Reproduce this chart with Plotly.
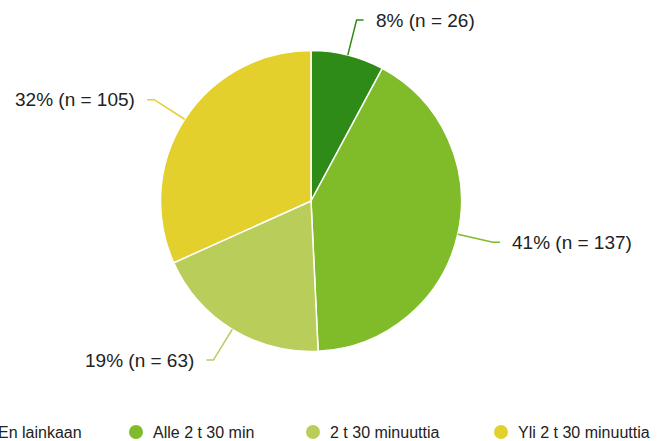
import math
import plotly.graph_objects as go

# Survey answers: daily time spent
categories = ["En lainkaan", "Alle 2 t 30 min", "2 t 30 minuuttia", "Yli 2 t 30 minuuttia"]
counts = [26, 137, 63, 105]
colors = ["#2e8b17", "#80bb2a", "#b9cd5a", "#e3d02c"]

W, H = 660, 441
CX, CY, R = 311.0, 201.0, 150.5   # pie centre and radius in pixels
ELBOW = 1.24 * R                   # leader line length from centre
TICK = 7                           # horizontal leader segment
GAP = 10                           # space between leader and text


def px(x):
    return x / W


def py(y):
    return 1 - y / H


fig = go.Figure()
fig.add_trace(go.Pie(
    labels=categories,
    values=counts,
    marker=dict(colors=colors, line=dict(color="white", width=1.5)),
    sort=False,
    direction="clockwise",
    rotation=0,
    textinfo="none",
    hoverinfo="label+value+percent",
    showlegend=False,
    domain=dict(x=[px(CX - R), px(CX + R)], y=[py(CY + R), py(CY - R)]),
))

shapes = []
annotations = []

# Outside labels with bent leader lines
total = sum(counts)
cum = 0
for cat, n, col in zip(categories, counts, colors):
    frac = n / total
    mid = (cum + frac / 2) * 2 * math.pi
    cum += frac
    sx, sy = math.sin(mid), -math.cos(mid)
    x0, y0 = CX + R * sx, CY + R * sy
    x1, y1 = CX + ELBOW * sx, CY + ELBOW * sy
    side = 1 if sx >= 0 else -1
    x2 = x1 + side * TICK
    path = f"M {px(x0)},{py(y0)} L {px(x1)},{py(y1)} L {px(x2)},{py(y1)}"
    shapes.append(dict(type="path", path=path, xref="paper", yref="paper",
                       line=dict(color=col, width=1.5)))
    annotations.append(dict(
        x=px(x2 + side * GAP), y=py(y1), xref="paper", yref="paper",
        text=f"{round(frac * 100)}% (n = {n})", showarrow=False,
        xanchor="left" if side > 0 else "right", yanchor="middle",
        font=dict(family="Arial, Liberation Sans, sans-serif", size=19, color="#222222"),
    ))

# Legend row along the bottom
legend_text_x = [-4, 151, 328, 516]
LEG_Y = 432
for cat, col, tx in zip(categories, colors, legend_text_x):
    mx = tx - 15
    shapes.append(dict(type="circle", xref="paper", yref="paper",
                       x0=px(mx - 7), x1=px(mx + 7), y0=py(LEG_Y + 7), y1=py(LEG_Y - 7),
                       fillcolor=col, line=dict(width=0)))
    annotations.append(dict(
        x=px(tx), y=py(LEG_Y), xref="paper", yref="paper",
        text=cat, showarrow=False, xanchor="left", yanchor="middle",
        font=dict(family="Arial, Liberation Sans, sans-serif", size=16, color="#222222"),
    ))

fig.update_layout(
    width=W, height=H,
    margin=dict(l=0, r=0, t=0, b=0),
    paper_bgcolor="white",
    plot_bgcolor="white",
    shapes=shapes,
    annotations=annotations,
    showlegend=False,
)

fig.write_html("out.html")
